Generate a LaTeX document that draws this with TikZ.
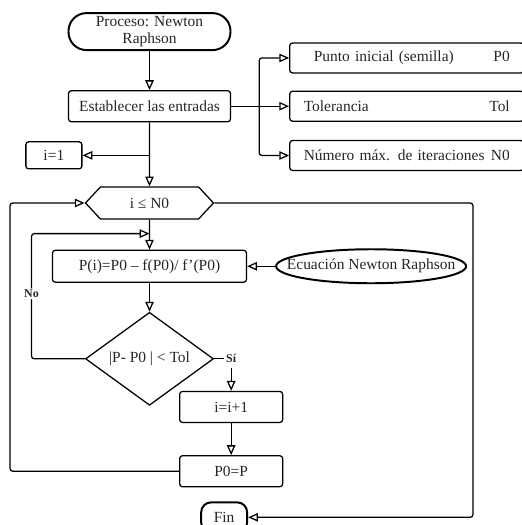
\documentclass[tikz,border=0pt]{standalone}
\usepackage{fontspec}
\setmainfont{Liberation Serif}
\usetikzlibrary{positioning,arrows.meta,shapes.geometric,shapes.symbols,calc}

\begin{document}
\begin{tikzpicture}[node distance=0.8cm, font=\fontsize{11pt}{12pt}\selectfont,
  line width=0.9pt, text=black!85,
  box/.style={draw, rounded corners=2pt, minimum height=0.775cm, inner sep=2pt},
  term/.style={draw, line width=1.4pt, rounded corners=0.45cm, minimum width=4.05cm,
    minimum height=0.925cm, align=center, inner sep=1pt},
  inbox/.style={box, minimum width=5.85cm, minimum height=0.75cm, text width=5.15cm, align=left},
  arr/.style={-{Triangle[open,length=7pt,width=6pt]}, rounded corners=2pt},
  lbl/.style={font=\fontsize{8.5pt}{10pt}\selectfont\bfseries, inner sep=1pt}]

  \useasboundingbox (0,0) rectangle (13.05,-13.125);

  % main column
  \node[term] (start) at (3.7375,-0.79) {Proceso: Newton\\Raphson};
  \node[box, minimum width=4.05cm, below=0.975cm of start] (entr) {Establecer las entradas};
  \node[signal, signal to=west and east, signal pointer angle=94, draw,
        minimum width=3.2cm, minimum height=0.8cm, inner sep=1pt,
        below=1.6cm of entr] (hex) {i ≤ N0};
  \node[box, minimum width=4.85cm, minimum height=0.8cm, below=0.75cm of hex] (proc)
        {P(i)=P0 – f(P0)/ f’(P0)};
  \node[diamond, draw, minimum width=3.2cm, minimum height=2.325cm, inner sep=0pt,
        below=0.72cm of proc] (dia) {\makebox[0pt]{|P- P0 | < Tol}};

  % inputs
  \node[inbox, right=1.45cm of entr] (tol) {Tolerancia\hfill Tol};
  \node[inbox, above=0.425cm of tol] (p0) {\hspace*{0.25cm}Punto inicial (semilla)\hfill P0};
  \node[inbox, below=0.45cm of tol] (nmax) {Número máx. de iteraciones\hfill N0};
  \coordinate[right=0.7cm of entr.east] (jn);

  \coordinate[below=0.825cm of entr.south] (br1);
  \node[box, minimum width=1.4cm, minimum height=0.675cm, left=1.675cm of br1] (i1) {i=1};

  \node[ellipse, draw, line width=1.4pt, minimum width=4.75cm, minimum height=0.85cm,
        inner sep=0pt, right=0.7cm of proc] (ecu) {\makebox[0pt]{Ecuación Newton Raphson}};

  % update branch
  \node[lbl, right=0.25cm of dia.east] (si) {Sí};
  \node[box, minimum width=2.575cm, below=0.8cm of si.center] (inc) {i=i+1};
  \node[box, minimum width=2.575cm, below=0.8cm of inc] (upd) {P0=P};
  \node[draw, line width=1.4pt, rounded corners=0.25cm, minimum width=1.15cm,
        minimum height=0.75cm, inner sep=1pt, below=0.35cm of upd, xshift=-0.175cm] (fin) {Fin};

  \coordinate[below=0.35cm of hex.south] (nl);
  \coordinate[left=2.95cm of nl] (nlx);
  \coordinate (lft) at (0.25,0);
  \coordinate (rgt) at (11.825,0);

  % connectors
  \draw[arr] (start) -- (entr);
  \draw (entr.east) -- (jn);
  \draw[arr] (jn) |- (p0.west);
  \draw[arr] (jn) -- (tol.west);
  \draw[arr] (jn) |- (nmax.west);
  \draw[arr] (entr) -- (hex);
  \draw[arr] (br1) -- (i1);
  \draw[arr] (hex) -- (proc);
  \draw[arr] (ecu) -- (proc);
  \draw[arr] (proc) -- (dia);
  \draw[arr] (dia.west) -| node[lbl, fill=white, pos=0.76] (no) {No} (nlx) -- (nl);
  \draw (dia.east) -- (si.west);
  \draw[arr] ([yshift=-2pt]si.south) -- (inc);
  \draw[arr] (inc) -- (upd);
  \draw[arr] (upd.west) -| (lft |- hex.west) -- (hex.west);
  \draw[arr] (hex.east) -| (rgt |- fin.east) -- (fin.east);
\end{tikzpicture}
\end{document}
